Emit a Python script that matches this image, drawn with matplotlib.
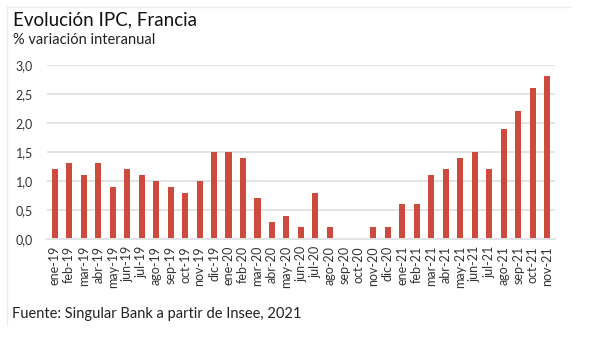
import matplotlib
matplotlib.use("Agg")
import matplotlib.pyplot as plt
from matplotlib.lines import Line2D

plt.rcParams['font.family'] = ['Lato', 'DejaVu Sans']

months = ["ene-19", "feb-19", "mar-19", "abr-19", "may-19", "jun-19", "jul-19", "ago-19",
          "sep-19", "oct-19", "nov-19", "dic-19",
          "ene-20", "feb-20", "mar-20", "abr-20", "may-20", "jun-20", "jul-20", "ago-20",
          "sep-20", "oct-20", "nov-20", "dic-20",
          "ene-21", "feb-21", "mar-21", "abr-21", "may-21", "jun-21", "jul-21", "ago-21",
          "sep-21", "oct-21", "nov-21"]
ipc = [1.2, 1.3, 1.1, 1.3, 0.9, 1.2, 1.1, 1.0, 0.9, 0.8, 1.0, 1.5,
       1.5, 1.4, 0.7, 0.3, 0.4, 0.2, 0.8, 0.2, 0.0, 0.0, 0.2, 0.2,
       0.6, 0.6, 1.1, 1.2, 1.4, 1.5, 1.2, 1.9, 2.2, 2.6, 2.8]
yticks = [0.0, 0.5, 1.0, 1.5, 2.0, 2.5, 3.0]

fig = plt.figure(figsize=(6.0, 3.39), dpi=100)
ax = fig.add_axes([0.078, 0.295, 0.847, 0.514])

x = list(range(len(months)))
ax.bar(x, ipc, width=0.42, color="#cc4a3e", zorder=3)

ax.set_ylim(0, 3.0)
ax.set_xlim(-0.55, len(months) - 0.45)
ax.set_yticks(yticks)
ax.set_yticklabels([f"{v:.1f}".replace(".", ",") for v in yticks], fontsize=9, color="#333333")
ax.set_xticks(x)
ax.set_xticklabels(months, rotation=90, fontsize=9, color="#333333")
ax.tick_params(axis="x", length=0, pad=5)
ax.tick_params(axis="y", length=0, pad=10)
ax.grid(axis="y", color="#e3e3e3", linewidth=1.4, zorder=0)
for s in ["top", "right", "left"]:
    ax.spines[s].set_visible(False)
ax.spines["bottom"].set_color("#e3e3e3")
ax.spines["bottom"].set_linewidth(1.4)
ax.spines["bottom"].set_zorder(4)

fig.text(0.022, 0.941, "Evolución IPC, Francia", fontsize=13.5, color="#111111", va="center")
fig.text(0.022, 0.882, "% variación interanual", fontsize=10.5, color="#222222", va="center")
fig.text(0.02, 0.074, "Fuente: Singular Bank a partir de Insee, 2021", fontsize=10.5, color="#222222", va="center")

fig.add_artist(Line2D([0.012, 0.012], [0.04, 0.98], transform=fig.transFigure, color="#ececec", linewidth=1))
fig.add_artist(Line2D([0.012, 0.952], [0.98, 0.98], transform=fig.transFigure, color="#ececec", linewidth=1))

fig.savefig("out.png", dpi=100, facecolor="white")
